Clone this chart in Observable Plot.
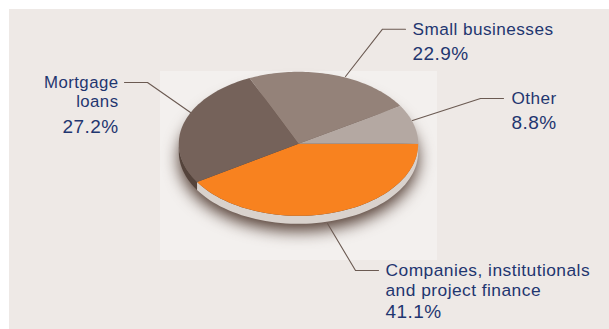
<!DOCTYPE html>
<html><head><meta charset="utf-8">
<script src="https://cdn.jsdelivr.net/npm/d3@7"></script>
<script src="https://cdn.jsdelivr.net/npm/@observablehq/plot@0.6"></script>
<style>html,body{margin:0;padding:0;background:#fff}svg{display:block}text{letter-spacing:.45px}</style>
</head><body><div id="chart"></div>
<script>
const categories = ["Companies, institutionals and project finance","Mortgage loans","Small businesses","Other"];
const shares = [41.1, 27.2, 22.9, 8.8];
const labelText = ["Companies, institutionals","and project finance","41.1%","Mortgage","loans","27.2%","Small businesses","22.9%","Other","8.8%"];

// Layout and styling, kept apart from the values above
const sliceColors = ["#f8821f","#75625a","#948279","#b4a8a2"];
const labelLayout = [
  {x:385,y:270,anchor:"start",size:17.4},{x:385,y:290,anchor:"start",size:17.4},{x:385,y:311,anchor:"start",size:19},
  {x:118,y:82,anchor:"end",size:16.8},{x:118,y:101,anchor:"end",size:16.8},{x:118,y:126,anchor:"end",size:19},
  {x:412,y:29,anchor:"start",size:17.2},{x:412,y:53,anchor:"start",size:19},
  {x:511,y:98,anchor:"start",size:17.2},{x:511,y:122,anchor:"start",size:19}
];
const labels = labelText.map((text, i) => ({text, ...labelLayout[i]}));
const leaders = [
  [[327,223],[355,270],[378,270]],
  [[190,112],[147,82],[124,82]],
  [[345,76],[382,28.7],[405,28.7]],
  [[412,120],[480,98],[503,98]]
];
const cx = 298, cy = 143.3, rx = 119.7, ry = 72, depth = 8;
const pt = (deg, dy = 0) => {
  const a = deg * Math.PI / 180;
  return {x: cx + rx * Math.cos(a), y: cy + ry * Math.sin(a) + dy};
};
const arc = (a0, a1, dy = 0) => d3.range(0, 61).map(i => pt(a0 + (a1 - a0) * i / 60, dy));
const total = d3.sum(shares);
let acc = 0;
const slices = shares.map((v, i) => {
  const a0 = acc / total * 360; acc += v; const a1 = acc / total * 360;
  return {i, a0, a1, pts: [{x: cx, y: cy}, ...arc(a0, a1)].map(p => ({...p, i}))};
});
const sidePoly = (a0, a1, i) => [...arc(a0, a1), ...arc(a1, a0, depth)].map(p => ({...p, i}));
const orangeEnd = slices[0].a1;
const sideLight = sidePoly(0, orangeEnd, 0);
const sideDark = sidePoly(orangeEnd, 180, 1);
const shadow = arc(0, 360, 15);

const textMark = anchor => Plot.text(labels.filter(d => d.anchor === anchor), {
  x: "x", y: "y", text: "text", textAnchor: anchor, fill: "#1f3670", fontSize: d => d.size
});

const plot = Plot.plot({
  width: 609, height: 329, margin: 0,
  x: {domain: [0, 609], range: [0, 609], axis: null},
  y: {domain: [0, 329], range: [0, 329], axis: null},
  style: {background: "#fff", fontFamily: "'Liberation Sans'"},
  marks: [
    Plot.rect([0], {x1: 9, x2: 609, y1: 9, y2: 329, fill: "#eee9e6"}),
    Plot.rect([0], {x1: 160, x2: 437, y1: 71, y2: 260, fill: "#f3f0ee"}),
    Plot.line(shadow, {x: "x", y: "y", fill: "#4a3328", imageFilter: "blur(8px)", fillOpacity: 0.95}),
    Plot.line(sideLight, {x: "x", y: "y", fill: "#d9d2cd"}),
    Plot.line(sideDark, {x: "x", y: "y", fill: "#54433b"}),
    ...slices.map(s => Plot.line(s.pts, {x: "x", y: "y", fill: sliceColors[s.i]})),
    ...leaders.map(l => Plot.line(l, {x: d => d[0], y: d => d[1], stroke: "#6b5a52", strokeWidth: 1.1})),
    textMark("start"),
    textMark("end")
  ]
});
document.getElementById("chart").append(plot);
</script></body></html>
